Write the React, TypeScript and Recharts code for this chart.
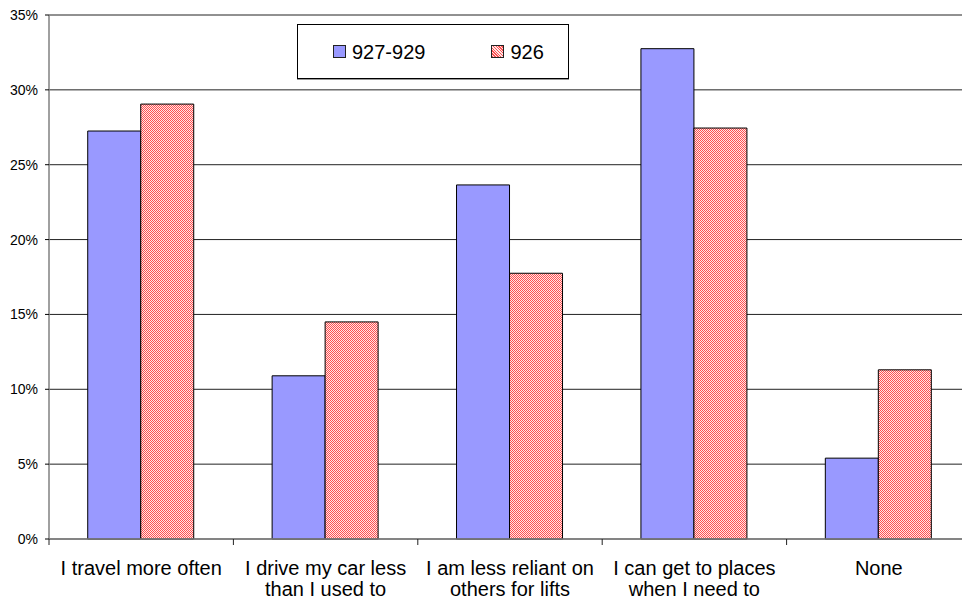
import { BarChart, Bar, XAxis, YAxis, CartesianGrid, Legend } from 'recharts'

const CATEGORIES = [
  'I travel more often',
  'I drive my car less\nthan I used to',
  'I am less reliant on\nothers for lifts',
  'I can get to places\nwhen I need to',
  'None',
]
const SERIES_A = [27.25, 10.9, 23.65, 32.75, 5.4]
const SERIES_B = [29.05, 14.5, 17.75, 27.45, 11.3]
const Y_TICKS = [0, 5, 10, 15, 20, 25, 30, 35]

const data = CATEGORIES.map((name, i) => ({ name, a: SERIES_A[i], b: SERIES_B[i] }))

const FONT = '"Liberation Sans", Arial, sans-serif'
const BLUE = '#9999ff'
const CHART_W = 980
const CHART_H = 603
const MARGIN = { top: 15, right: 9, bottom: 0, left: 0 }
const Y_W = 49
const BAND = (CHART_W - MARGIN.left - MARGIN.right - Y_W) / CATEGORIES.length

function CategoryTick(props: any) {
  const { x, y, payload, index } = props
  const left = x - BAND / 2
  const right = x + BAND / 2
  const lines = String(payload.value).split('\n')
  return (
    <g>
      <line x1={left} x2={left} y1={y} y2={y + 6} stroke="#222" />
      {index === CATEGORIES.length - 1 && <line x1={right} x2={right} y1={y} y2={y + 6} stroke="#222" />}
      <text x={x} y={y + 36} textAnchor="middle" style={{ fontSize: 20, fontFamily: FONT, fill: '#000' }}>
        {lines.map((l, i) => (
          <tspan key={i} x={x} dy={i === 0 ? 0 : 21}>
            {l}
          </tspan>
        ))}
      </text>
    </g>
  )
}

function LegendBox() {
  const item = (fill: string, label: string, gapAfter: number) => (
    <div style={{ display: 'flex', alignItems: 'center', marginRight: gapAfter }}>
      <div style={{ width: 11, height: 11, border: '1px solid #222', background: fill, marginRight: 6 }} />
      <span style={{ fontSize: 20, fontFamily: FONT, color: '#000', lineHeight: '20px' }}>{label}</span>
    </div>
  )
  return (
    <div
      style={{
        width: 272,
        height: 55,
        border: '1px solid #000',
        boxShadow: '0 1px 0 #999',
        background: '#fff',
        display: 'flex',
        alignItems: 'center',
        paddingLeft: 35,
        boxSizing: 'border-box',
      }}
    >
      {item(BLUE, '927-929', 66)}
      {item('repeating-linear-gradient(45deg, #ff5050 0 1px, #ffe6e6 1px 2px)', '926', 0)}
    </div>
  )
}

export default function App() {
  return (
    <div style={{ position: 'absolute', left: 0, top: 0, width: 962, height: 603, overflow: 'hidden', background: '#fff' }}>
      <BarChart
        width={CHART_W}
        height={CHART_H}
        data={data}
        margin={MARGIN}
        barCategoryGap="21%"
        barGap={0}
      >
        <defs>
          <pattern id="hatch" patternUnits="userSpaceOnUse" width="2" height="2">
            <rect width="2" height="2" fill="#ffe6e6" />
            <rect x="0" y="0" width="1" height="1" fill="#ff5050" />
            <rect x="1" y="1" width="1" height="1" fill="#ff5050" />
          </pattern>
        </defs>
        <CartesianGrid vertical={false} stroke="#222" />
        <XAxis
          dataKey="name"
          height={64}
          interval={0}
          tickLine={false}
          tickSize={0}
          tickMargin={0}
          axisLine={{ stroke: '#808080', strokeWidth: 1.5 }}
          tick={<CategoryTick />}
        />
        <YAxis
          width={Y_W}
          domain={[0, 35]}
          ticks={Y_TICKS}
          interval={0}
          tickFormatter={(v: number) => `${v}%`}
          tickSize={4}
          tickMargin={7}
          tickLine={{ stroke: '#000' }}
          axisLine={{ stroke: '#808080', strokeWidth: 1.5 }}
          tick={{ fontSize: 14, fontFamily: FONT, fill: '#000' }}
        />
        <Legend
          layout="vertical"
          verticalAlign="middle"
          align="center"
          content={() => <LegendBox />}
          wrapperStyle={{ left: 297, top: 24, width: 273, height: 56 }}
        />
        <Bar dataKey="a" name="927-929" fill={BLUE} stroke="#000" strokeWidth={1} isAnimationActive={false} />
        <Bar dataKey="b" name="926" fill="url(#hatch)" stroke="#000" strokeWidth={1} isAnimationActive={false} />
      </BarChart>
    </div>
  )
}
